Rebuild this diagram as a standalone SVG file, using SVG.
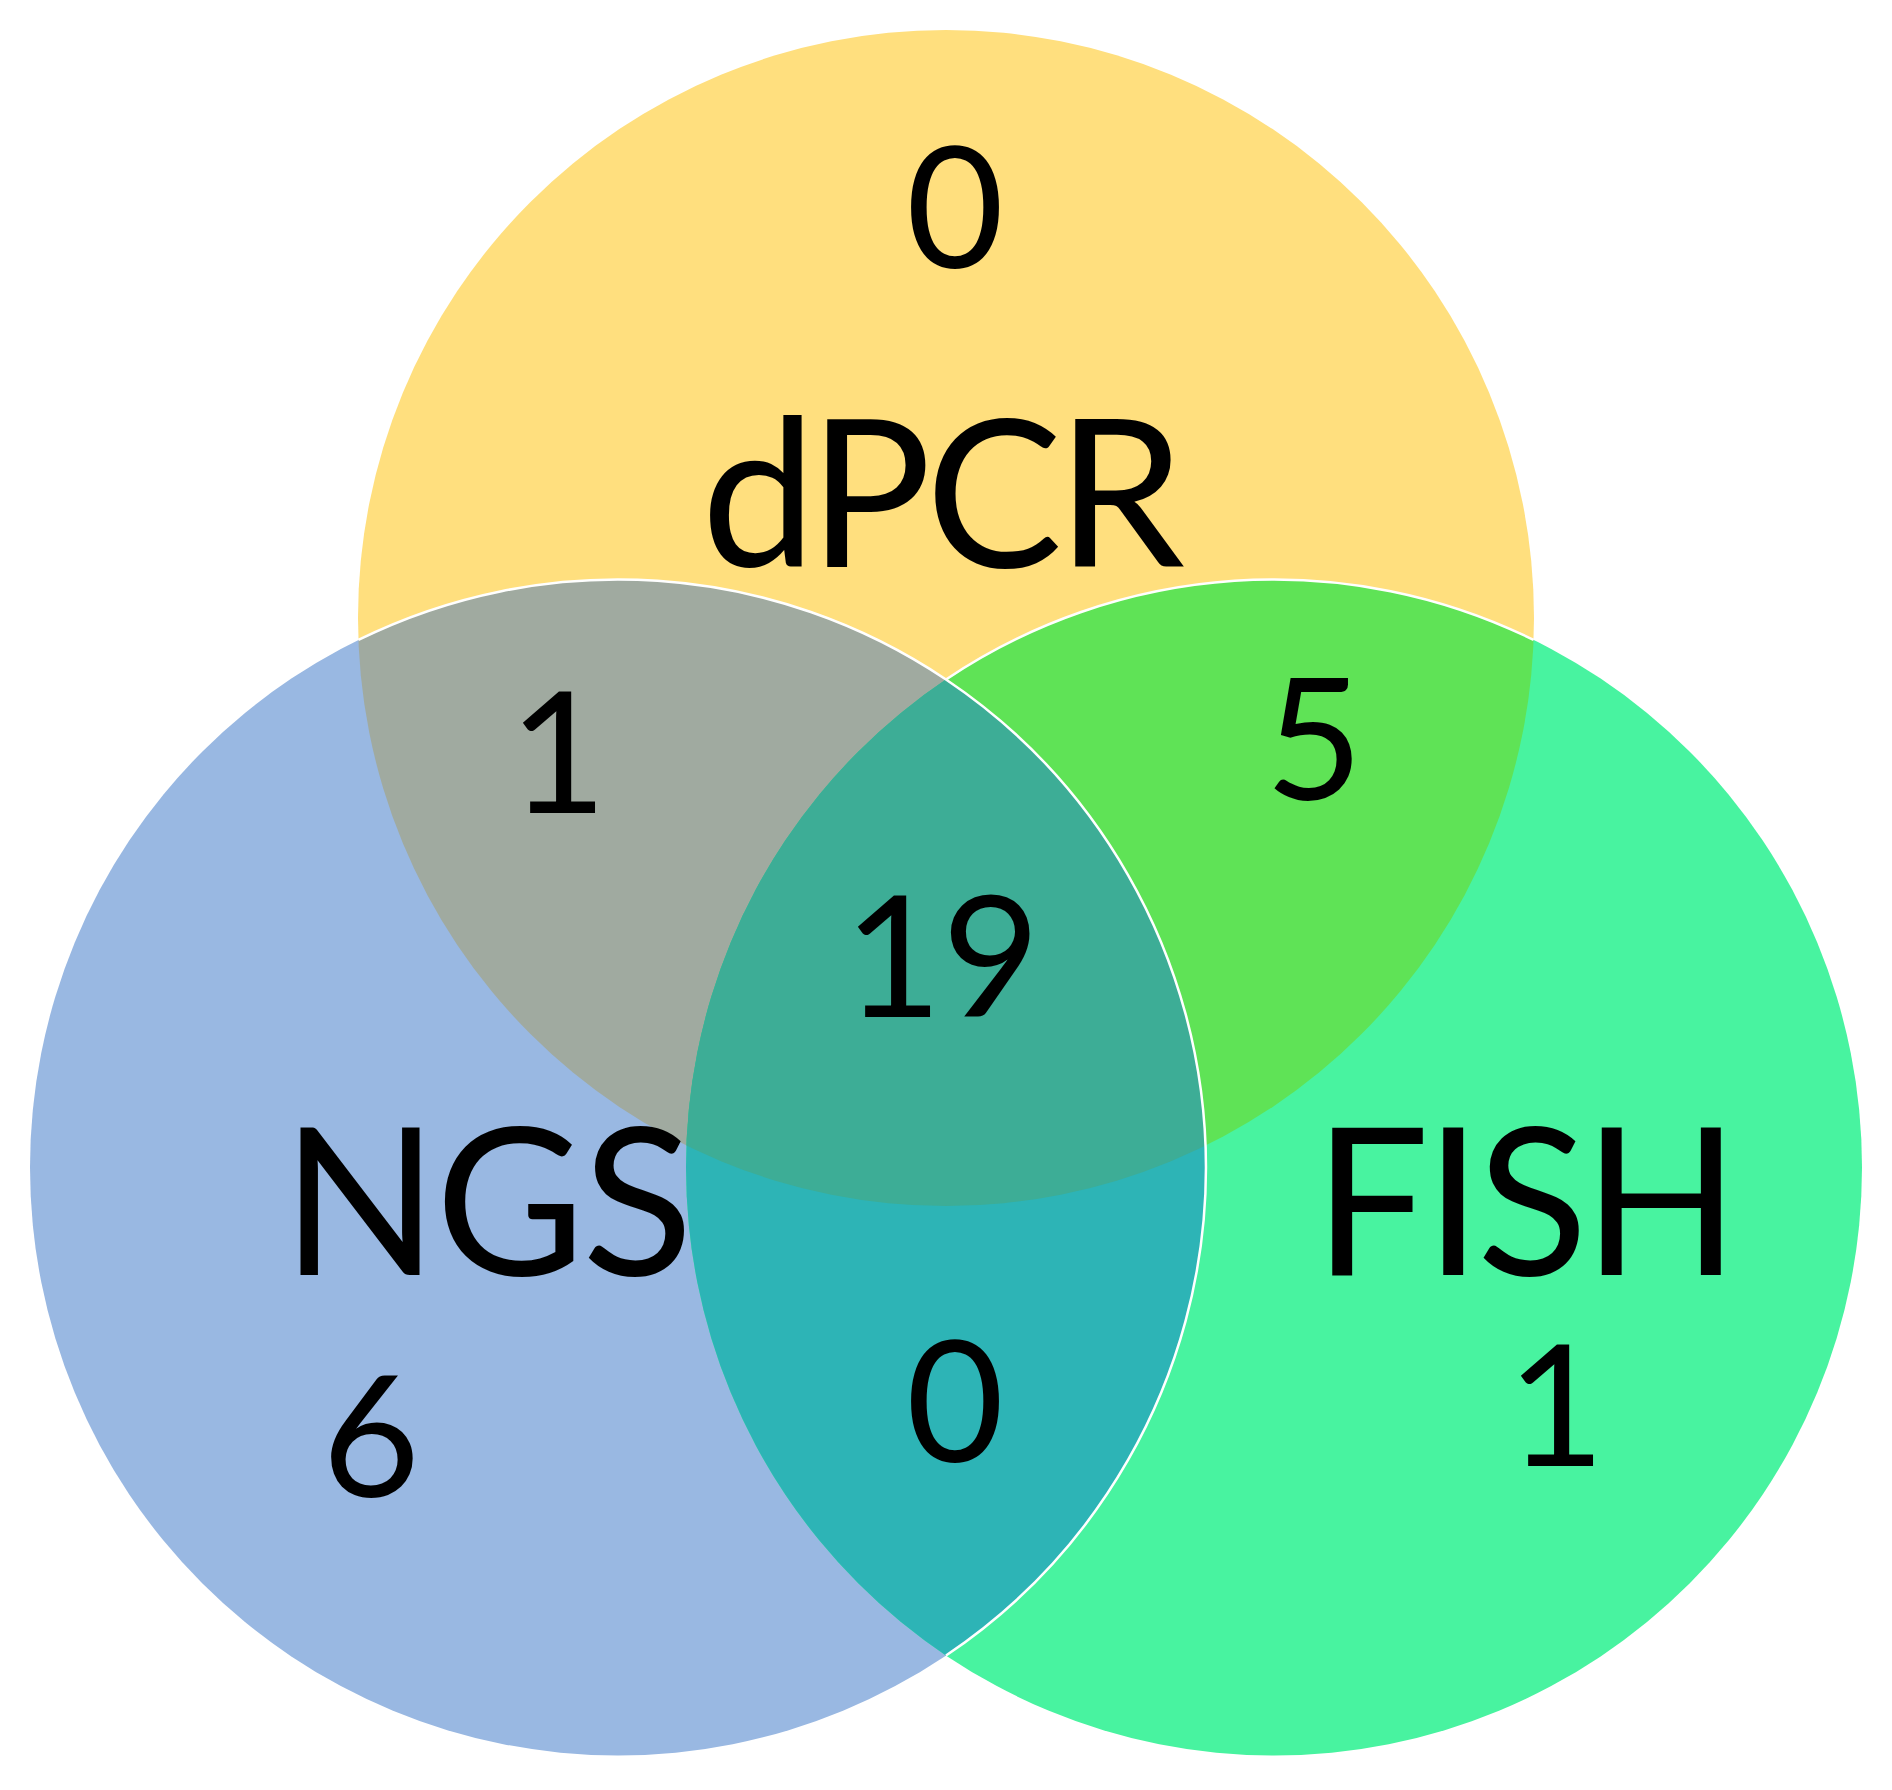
<svg xmlns="http://www.w3.org/2000/svg" width="1892" height="1790" viewBox="0 0 1892 1790">
  <style>
    .lbl { font-family: Lato, "Open Sans", "Liberation Sans", sans-serif; fill: #000; text-anchor: middle; }
    .big { font-size: 205px; }
    .num { font-size: 169px; }
    .edge { fill: none; stroke: #ffffff; stroke-width: 2.5; }
  </style>
  <defs>
    <clipPath id="clipD"><circle cx="946" cy="618" r="588"/></clipPath>
    <clipPath id="clipN"><circle cx="618" cy="1167.5" r="588"/></clipPath>
    <clipPath id="clipF"><circle cx="1274" cy="1167.5" r="588"/></clipPath>
  </defs>
  <rect width="1892" height="1790" fill="#ffffff"/>

  <g id="dpcr">
    <circle cx="946" cy="618" r="588" fill="#FFDF7E"/>
  </g>
  <g id="ngs">
    <circle cx="618" cy="1167.5" r="588" fill="#99B8E2"/>
  </g>
  <g id="fish">
    <circle cx="1274" cy="1167.5" r="588" fill="#48F3A0"/>
  </g>

  <g id="dpcr-ngs">
    <circle cx="618" cy="1167.5" r="588" fill="#A0AAA0" clip-path="url(#clipD)"/>
  </g>
  <g id="dpcr-fish">
    <circle cx="1274" cy="1167.5" r="588" fill="#5FE356" clip-path="url(#clipD)"/>
  </g>
  <g id="ngs-fish">
    <circle cx="1274" cy="1167.5" r="588" fill="#2DB4B6" clip-path="url(#clipN)"/>
  </g>
  <g id="all-three" clip-path="url(#clipD)">
    <circle cx="1274" cy="1167.5" r="588" fill="#3DAD96" clip-path="url(#clipN)"/>
  </g>

  <g id="edges">
    <path class="edge" d="M 1533.6 639.9 A 588 588 0 0 0 946 679.5"/>
    <path class="edge" d="M 358.4 639.9 A 588 588 0 0 1 946 679.5 A 588 588 0 0 1 946 1655.5"/>
  </g>

  <g id="labels">
    <text class="lbl big" x="940" y="567" letter-spacing="-6">dPCR</text>
    <text class="lbl big" x="486" y="1275" letter-spacing="-3">NGS</text>
    <text class="lbl big" x="1524" y="1275" letter-spacing="-5">FISH</text>
    <text class="lbl num" x="955" y="268">0</text>
    <text class="lbl num" x="558" y="813">1</text>
    <text class="lbl num" x="1314" y="800">5</text>
    <text class="lbl num" x="942" y="1017">19</text>
    <text class="lbl num" x="371" y="1497">6</text>
    <text class="lbl num" x="955" y="1462">0</text>
    <text class="lbl num" x="1556" y="1466">1</text>
  </g>
</svg>
